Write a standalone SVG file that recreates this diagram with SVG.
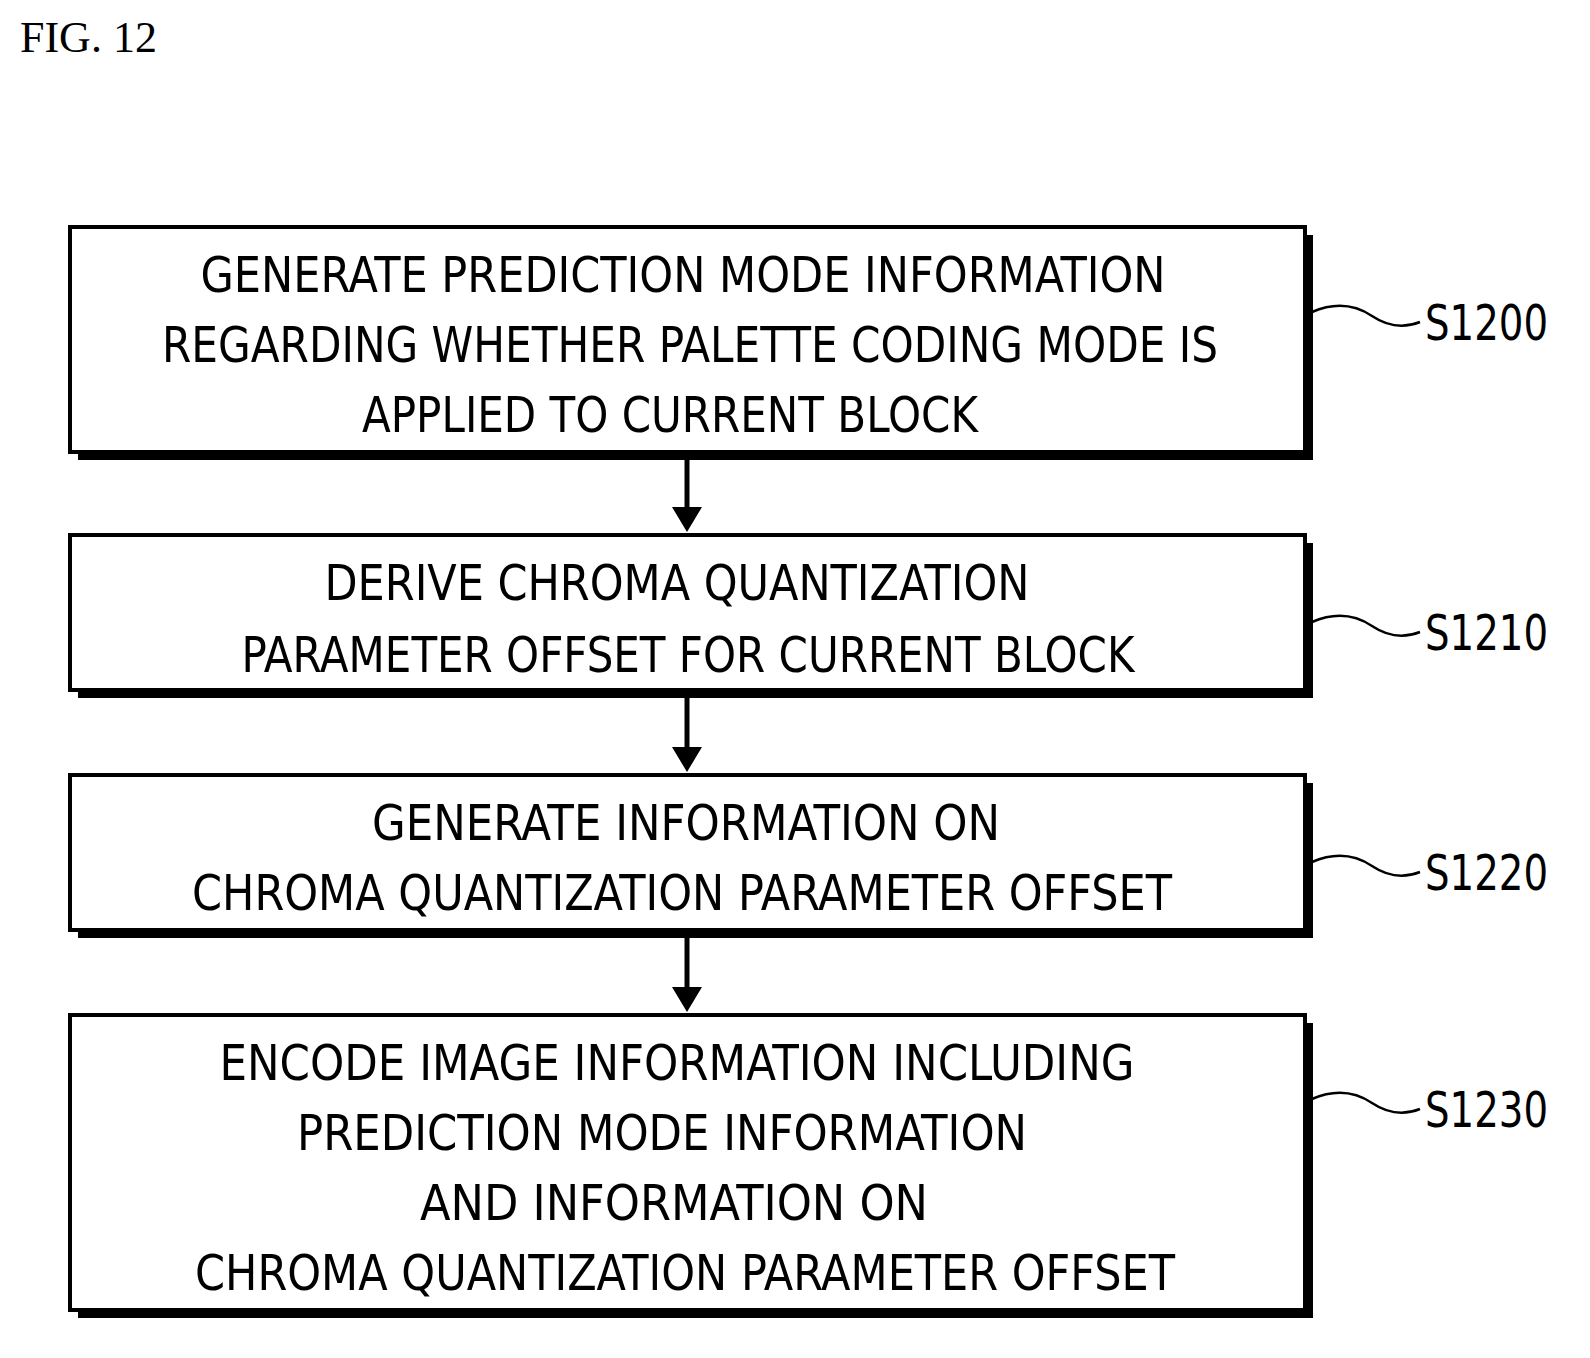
<svg xmlns="http://www.w3.org/2000/svg" width="1590" height="1358" viewBox="0 0 1590 1358">
<style>
.sh{fill:#000}
.bx{fill:#fff;stroke:#000;stroke-width:4}
.t{font-family:"DejaVu Sans","Liberation Sans",sans-serif;font-stretch:condensed;font-size:50px;fill:#000}
.c{text-anchor:middle}
.w{fill:none;stroke:#000;stroke-width:2.5}
.a{stroke:#000;stroke-width:5}
</style>
<defs><marker id="ah" markerWidth="5" markerHeight="6" refX="4" refY="3" orient="auto" markerUnits="strokeWidth"><path d="M0,0 L5,3 L0,6 z" fill="#000"/></marker></defs>
<text x="20" y="52" font-family="Liberation Serif,serif" font-size="44">FIG. 12</text>
<g id="s1200">
<rect class="sh" x="78" y="235" width="1235" height="225"/>
<rect class="bx" x="70" y="227" width="1235" height="225"/>
<text class="t c" x="683" y="292" textLength="965" lengthAdjust="spacingAndGlyphs">GENERATE PREDICTION MODE INFORMATION</text>
<text class="t c" x="690" y="362" textLength="1056" lengthAdjust="spacingAndGlyphs">REGARDING WHETHER PALETTE CODING MODE IS</text>
<text class="t c" x="670" y="432" textLength="616" lengthAdjust="spacingAndGlyphs">APPLIED TO CURRENT BLOCK</text>
<path class="w" d="M1312 312 C1340 300,1360 308,1372 316 S1400 330,1420 322"/>
<text class="t" x="1425" y="340" textLength="123" lengthAdjust="spacingAndGlyphs">S1200</text>
</g>
<g id="s1210">
<rect class="sh" x="78" y="543" width="1235" height="155"/>
<rect class="bx" x="70" y="535" width="1235" height="155"/>
<text class="t c" x="677" y="600" textLength="705" lengthAdjust="spacingAndGlyphs">DERIVE CHROMA QUANTIZATION</text>
<text class="t c" x="688" y="672" textLength="893" lengthAdjust="spacingAndGlyphs">PARAMETER OFFSET FOR CURRENT BLOCK</text>
<path class="w" d="M1312 622 C1340 610,1360 618,1372 626 S1400 640,1420 632"/>
<text class="t" x="1425" y="650" textLength="123" lengthAdjust="spacingAndGlyphs">S1210</text>
</g>
<g id="s1220">
<rect class="sh" x="78" y="783" width="1235" height="155"/>
<rect class="bx" x="70" y="775" width="1235" height="155"/>
<text class="t c" x="686" y="840" textLength="628" lengthAdjust="spacingAndGlyphs">GENERATE INFORMATION ON</text>
<text class="t c" x="682" y="910" textLength="980" lengthAdjust="spacingAndGlyphs">CHROMA QUANTIZATION PARAMETER OFFSET</text>
<path class="w" d="M1312 862 C1340 850,1360 858,1372 866 S1400 880,1420 872"/>
<text class="t" x="1425" y="890" textLength="123" lengthAdjust="spacingAndGlyphs">S1220</text>
</g>
<g id="s1230">
<rect class="sh" x="78" y="1023" width="1235" height="295"/>
<rect class="bx" x="70" y="1015" width="1235" height="295"/>
<text class="t c" x="677" y="1080" textLength="915" lengthAdjust="spacingAndGlyphs">ENCODE IMAGE INFORMATION INCLUDING</text>
<text class="t c" x="662" y="1150" textLength="730" lengthAdjust="spacingAndGlyphs">PREDICTION MODE INFORMATION</text>
<text class="t c" x="674" y="1220" textLength="508" lengthAdjust="spacingAndGlyphs">AND INFORMATION ON</text>
<text class="t c" x="685" y="1290" textLength="980" lengthAdjust="spacingAndGlyphs">CHROMA QUANTIZATION PARAMETER OFFSET</text>
<path class="w" d="M1312 1099 C1340 1087,1360 1095,1372 1103 S1400 1117,1420 1109"/>
<text class="t" x="1425" y="1127" textLength="123" lengthAdjust="spacingAndGlyphs">S1230</text>
</g>
<g id="connectors">
<line class="a" x1="687" y1="460" x2="687" y2="527" marker-end="url(#ah)"/>
<line class="a" x1="687" y1="698" x2="687" y2="767" marker-end="url(#ah)"/>
<line class="a" x1="687" y1="938" x2="687" y2="1007" marker-end="url(#ah)"/>
</g>
</svg>
